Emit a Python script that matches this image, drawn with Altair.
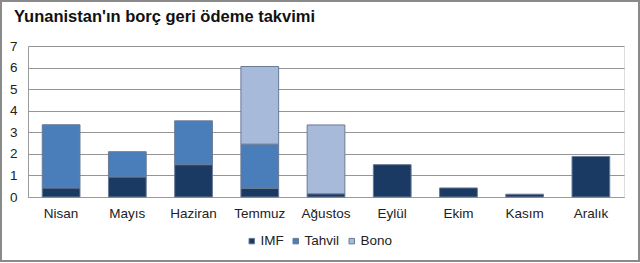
import altair as alt
import pandas as pd

months = ["Nisan", "Mayıs", "Haziran", "Temmuz", "Ağustos", "Eylül", "Ekim", "Kasım", "Aralık"]
series = ["IMF", "Tahvil", "Bono"]
imf = [0.42, 0.93, 1.5, 0.4, 0.15, 1.5, 0.42, 0.13, 1.88]
tahvil = [2.93, 1.17, 2.03, 2.05, 0, 0, 0, 0, 0]
bono = [0, 0, 0, 3.6, 3.19, 0, 0, 0, 0]
colors = ["#1a3a63", "#4a7ebb", "#a7bad9"]
title_text = "Yunanistan'ın borç geri ödeme takvimi"

rows = []
for i, m in enumerate(months):
    for k, (s, vals) in enumerate(zip(series, [imf, tahvil, bono])):
        if vals[i] > 0:
            rows.append({"Ay": m, "Tür": s, "Değer": vals[i], "sıra": k})
df = pd.DataFrame(rows)

FONT = "Liberation Sans"

bars = alt.Chart(df).mark_bar(stroke="#6b7a94", strokeWidth=1).encode(
    x=alt.X("Ay:N", sort=months, title=None,
            scale=alt.Scale(paddingInner=0.43, paddingOuter=0.215),
            axis=alt.Axis(labelAngle=0, ticks=False, domainColor="#9a9a9a",
                          labelFontSize=13.5, labelColor="#222", labelPadding=9,
                          labelFont=FONT)),
    y=alt.Y("Değer:Q", stack="zero", title=None,
            scale=alt.Scale(domain=[0, 7], nice=False),
            axis=alt.Axis(values=[0, 1, 2, 3, 4, 5, 6, 7], ticks=False, domainColor="#9a9a9a",
                          gridColor="#959595", labelFontSize=13.5, labelColor="#222",
                          labelPadding=11, labelFont=FONT)),
    color=alt.Color("Tür:N", scale=alt.Scale(domain=series, range=colors), title=None,
                    legend=alt.Legend(orient="none", legendX=217, legendY=188,
                                      direction="horizontal", symbolType="square",
                                      symbolSize=30, symbolStrokeWidth=1,
                                      labelFontSize=13.5, labelFont=FONT, labelColor="#222",
                                      labelOffset=2, columnPadding=5)),
    order=alt.Order("sıra:Q"),
)

title = alt.Chart(pd.DataFrame({"t": [title_text]})).mark_text(
    align="left", baseline="alphabetic", font=FONT, fontSize=16.5, fontWeight="bold",
    color="#111"
).encode(text="t:N", x=alt.value(-14), y=alt.value(-24))

frame = alt.Chart(pd.DataFrame({"a": [0]})).mark_rect(
    fill=None, stroke="#8a8a8a", strokeWidth=2
).encode(
    x=alt.value(-27), x2=alt.value(611), y=alt.value(-45), y2=alt.value(215)
)

chart = alt.layer(bars, title, frame).properties(
    width=596, height=151,
    autosize=alt.AutoSizeParams(type="none"),
    padding={"left": 28, "top": 46, "right": 16, "bottom": 66},
).configure_view(fill="#e9eef5", stroke=None).configure(background="white")

chart.save("out.html", embed_options={"renderer": "svg", "actions": False})
